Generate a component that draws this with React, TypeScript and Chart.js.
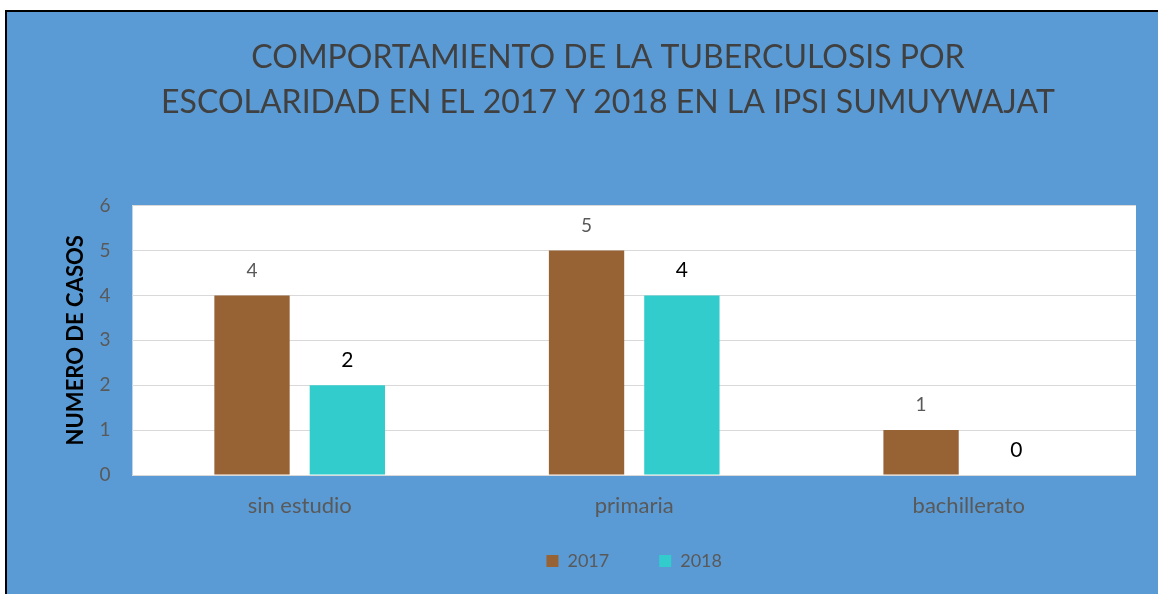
import React, { useEffect, useRef } from "react";
import { Chart, registerables } from "chart.js";

Chart.register(...registerables);

const categories = ["sin estudio", "primaria", "bachillerato"];
const values2017 = [4, 5, 1];
const values2018 = [2, 4, 0];
const seriesNames = ["2017", "2018"];
const yTicks = [0, 1, 2, 3, 4, 5, 6];
const titleLines = [
  "COMPORTAMIENTO DE LA TUBERCULOSIS POR",
  "ESCOLARIDAD EN EL 2017 Y 2018 EN LA IPSI SUMUYWAJAT",
];
const yTitle = "NUMERO DE CASOS";

const FONT = "Lato, 'Open Sans', sans-serif";

const labelPlugin = {
  id: "valueLabels",
  afterDatasetsDraw(chart: any) {
    const ctx = chart.ctx;
    chart.data.datasets.forEach((ds: any, i: number) => {
      const meta = chart.getDatasetMeta(i);
      meta.data.forEach((bar: any, j: number) => {
        ctx.save();
        ctx.font = i === 0 ? `19px ${FONT}` : `21px ${FONT}`;
        ctx.fillStyle = i === 0 ? "#595959" : "#000000";
        ctx.textAlign = "center";
        ctx.textBaseline = "middle";
        ctx.fillText(String(ds.data[j]), bar.x, bar.y - 25);
        ctx.restore();
      });
    });
  },
};

export default function App() {
  const ref = useRef<HTMLCanvasElement>(null);
  useEffect(() => {
    if (!ref.current) return;
    const chart = new Chart(ref.current, {
      type: "bar",
      data: {
        labels: categories,
        datasets: [
          {
            label: seriesNames[0],
            data: values2017,
            backgroundColor: "#976334",
            categoryPercentage: 0.57,
            barPercentage: 0.79,
          },
          {
            label: seriesNames[1],
            data: values2018,
            backgroundColor: "#33CCCC",
            categoryPercentage: 0.57,
            barPercentage: 0.79,
          },
        ],
      },
      options: {
        responsive: false,
        animation: false,
        layout: { padding: { left: 80, right: 80, top: 0, bottom: 14 } },
        plugins: {
          title: {
            display: true,
            text: titleLines,
            color: "#404040",
            font: { family: FONT, size: 32, weight: "normal", lineHeight: 1.4 },
            padding: { top: 35, bottom: 81 },
          },
          legend: {
            position: "bottom",
            fullSize: false,
            labels: {
              color: "#595959",
              font: { family: FONT, size: 18 },
              boxWidth: 12,
              boxHeight: 12,
              padding: 50,
            },
          },
          tooltip: { enabled: false },
        },
        scales: {
          x: {
            grid: { display: false },
            border: { display: false },
            ticks: { color: "#595959", font: { family: FONT, size: 22 }, padding: -44, mirror: true },
            afterFit: (axis: any) => {
              axis.height = 27;
            },
          },
          y: {
            min: 0,
            max: 6,
            afterBuildTicks: (axis: any) => {
              axis.ticks = yTicks.map((v) => ({ value: v }));
            },
            grid: { color: "#D9D9D9", drawTicks: false, lineWidth: 1 },
            border: { display: false },
            ticks: { color: "#595959", font: { family: FONT, size: 19 }, padding: 22 },
            title: {
              display: true,
              text: yTitle,
              color: "#000000",
              font: { family: FONT, size: 22, weight: "bold", lineHeight: 1.2 },
              padding: { top: -17, bottom: -12 },
            },
          },
        },
      },
      plugins: [
        labelPlugin,
        {
          id: "whiteArea",
          beforeDraw(chart: any) {
            const { ctx, chartArea } = chart;
            ctx.save();
            ctx.fillStyle = "#FFFFFF";
            ctx.fillRect(chartArea.left, chartArea.top, chartArea.right - chartArea.left, chartArea.bottom - chartArea.top);
            ctx.restore();
          },
        },
      ],
    } as any);
    return () => chart.destroy();
  }, []);

  return (
    <div style={{ position: "fixed", left: 0, top: 0, width: 1158, height: 594, overflow: "hidden", background: "#ffffff" }}>
      <div
        style={{
          position: "absolute",
          left: 5,
          top: 10,
          width: 1250,
          height: 700,
          border: "2px solid #000000",
          background: "#5B9BD5",
          boxSizing: "border-box",
        }}
      />
      <canvas ref={ref} width={1216} height={594} style={{ position: "absolute", left: 0, top: 0, width: 1216, height: 594 }} />
    </div>
  );
}
